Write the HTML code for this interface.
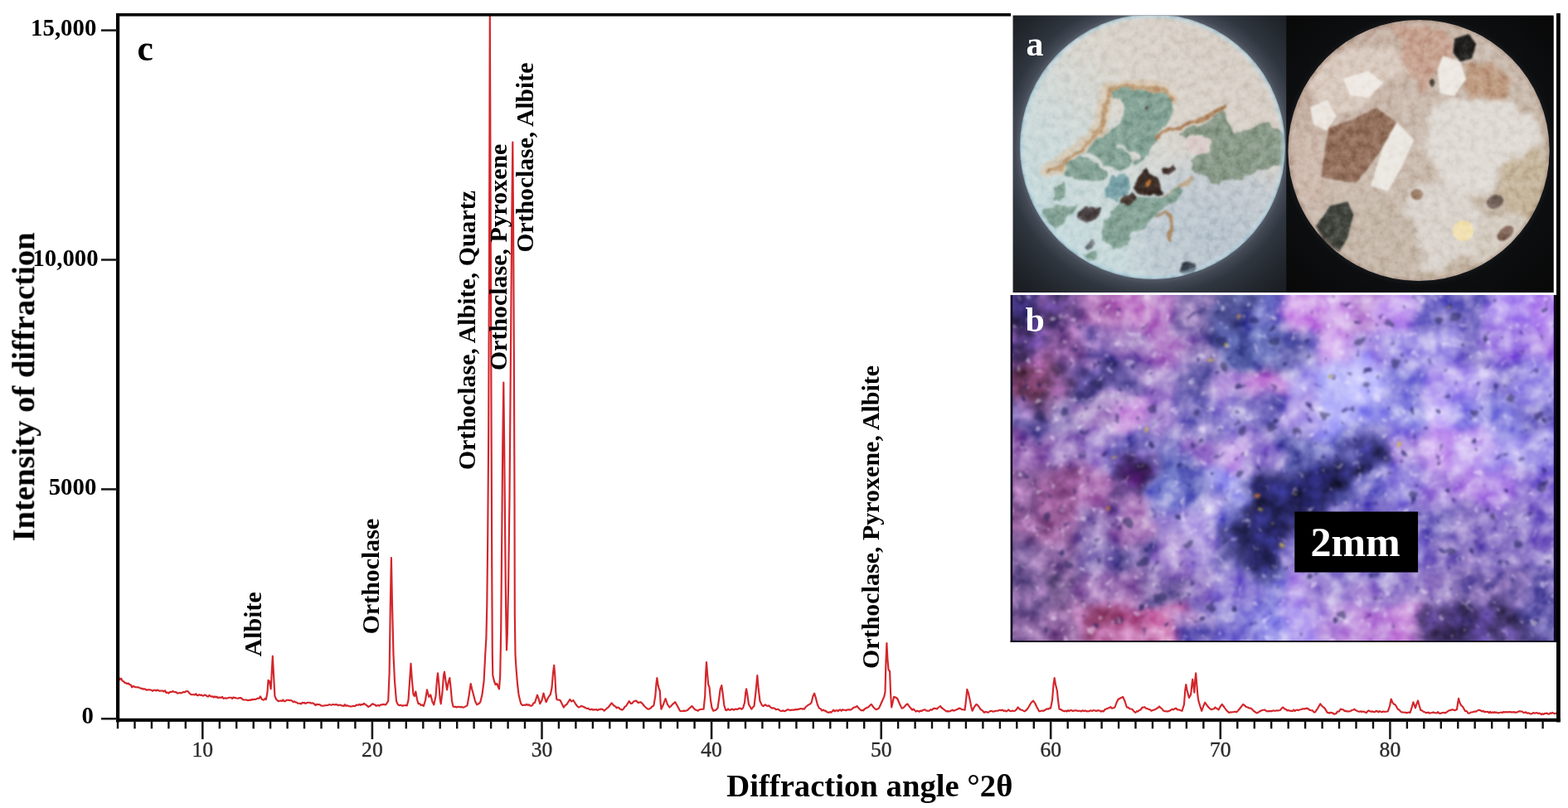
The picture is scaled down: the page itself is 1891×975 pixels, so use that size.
<!DOCTYPE html>
<html lang="en"><head><meta charset="utf-8"><title>XRD pattern with thin-section and hand-specimen photographs</title>
<style>
html,body{margin:0;padding:0;background:#fff;}
body{width:1891px;height:975px;overflow:hidden;}
svg{display:block;}
text{font-family:"Liberation Serif","DejaVu Serif",serif;}
.b{font-weight:bold;fill:#000;}
.tk{font-size:25.6px;fill:#2b2b2b;stroke:#2b2b2b;stroke-width:0.35px;text-anchor:middle;}
.yl{font-size:28.8px;font-weight:bold;fill:#000;text-anchor:end;}
.pk{font-size:29.9px;font-weight:bold;fill:#000;}
</style></head><body>
<svg width="1891" height="975" viewBox="0 0 1891 975">
<rect width="1891" height="975" fill="#fff"/>
<defs>
<clipPath id="ca"><rect x="1221.5" y="18.5" width="652.2" height="334.5"/></clipPath>
<clipPath id="caL"><rect x="1221.5" y="18.5" width="330.0" height="334.5"/></clipPath>
<clipPath id="cL"><circle cx="1390" cy="177" r="160"/></clipPath>
<clipPath id="cR"><circle cx="1711" cy="181.5" r="157.6"/></clipPath>
<radialGradient id="gL0" gradientUnits="userSpaceOnUse" cx="1390" cy="177" r="230">
<stop offset="0.695" stop-color="#555d69"/><stop offset="0.72" stop-color="#434a55"/><stop offset="0.78" stop-color="#30363f"/><stop offset="0.9" stop-color="#23282e"/><stop offset="1" stop-color="#1b1f24"/></radialGradient>
<linearGradient id="gL1" gradientUnits="userSpaceOnUse" x1="1260" y1="300" x2="1510" y2="50">
<stop offset="0" stop-color="#c3d9dc"/><stop offset="0.35" stop-color="#cfd9d8"/><stop offset="0.6" stop-color="#d9d4cc"/><stop offset="1" stop-color="#d6cdc4"/></linearGradient>
<radialGradient id="gL2" gradientUnits="userSpaceOnUse" cx="1470" cy="290" r="120">
<stop offset="0" stop-color="#b8c3cd" stop-opacity="1"/><stop offset="0.7" stop-color="#bcc7d0" stop-opacity="0.7"/><stop offset="1" stop-color="#c2ccd4" stop-opacity="0"/></radialGradient>
<radialGradient id="gLrim" gradientUnits="userSpaceOnUse" cx="1390" cy="177" r="160">
<stop offset="0.955" stop-color="#c4dce4" stop-opacity="0"/><stop offset="0.985" stop-color="#b4d2de" stop-opacity="0.6"/><stop offset="1" stop-color="#8aa8b8" stop-opacity="0.95"/></radialGradient>
<radialGradient id="gR0" gradientUnits="userSpaceOnUse" cx="1711" cy="181.5" r="230">
<stop offset="0.68" stop-color="#15181b"/><stop offset="0.71" stop-color="#0d0e10"/><stop offset="1" stop-color="#080808"/></radialGradient>
<linearGradient id="gR1" gradientUnits="userSpaceOnUse" x1="1580" y1="60" x2="1840" y2="300">
<stop offset="0" stop-color="#c3ad9f"/><stop offset="0.45" stop-color="#cbbcb0"/><stop offset="1" stop-color="#c4b6a4"/></linearGradient>
<radialGradient id="gRrim" gradientUnits="userSpaceOnUse" cx="1711" cy="181.5" r="157.6">
<stop offset="0.965" stop-color="#b89a88" stop-opacity="0"/><stop offset="1" stop-color="#9a8474" stop-opacity="0.55"/></radialGradient>
<filter id="fa" x="-5%" y="-5%" width="110%" height="110%" color-interpolation-filters="sRGB">
<feTurbulence type="fractalNoise" baseFrequency="0.07" numOctaves="2" seed="9" result="nd"/>
<feDisplacementMap in="SourceGraphic" in2="nd" scale="11" xChannelSelector="R" yChannelSelector="G" result="d"/>
<feGaussianBlur in="d" stdDeviation="1.1"/></filter>
<filter id="fp" x="-5%" y="-5%" width="110%" height="110%" color-interpolation-filters="sRGB"><feGaussianBlur stdDeviation="1.3"/></filter>
<filter id="fa3" x="-5%" y="-5%" width="110%" height="110%" color-interpolation-filters="sRGB">
<feTurbulence type="fractalNoise" baseFrequency="0.05" numOctaves="2" seed="19" result="nd"/>
<feDisplacementMap in="SourceGraphic" in2="nd" scale="22" xChannelSelector="R" yChannelSelector="G" result="d"/>
<feGaussianBlur in="d" stdDeviation="2.4"/></filter>
<filter id="fan" x="0" y="0" width="100%" height="100%" color-interpolation-filters="sRGB">
<feTurbulence type="fractalNoise" baseFrequency="0.11" numOctaves="3" seed="5" result="n"/>
<feColorMatrix in="n" type="matrix" values="0.56 0 0 0 0.22  0.56 0 0 0 0.22  0.56 0 0 0 0.22  0 0 0 0 1" result="g"/>
<feBlend in="g" in2="SourceGraphic" mode="soft-light" result="o"/>
<feComposite in="o" in2="SourceGraphic" operator="in"/>
</filter>
</defs>
<g clip-path="url(#ca)">
<rect x="1221.5" y="18.5" width="652.2" height="334.5" fill="#0b0c0d"/>
<rect x="1221.5" y="18.5" width="330.0" height="334.5" fill="url(#gL0)"/>
<rect x="1551.5" y="18.5" width="322.2" height="334.5" fill="url(#gR0)"/>
<g clip-path="url(#caL)"><g clip-path="url(#cL)"><g filter="url(#fan)">
<circle cx="1390" cy="177" r="162" fill="url(#gL1)"/>
<circle cx="1390" cy="177" r="162" fill="url(#gL2)"/>
<g filter="url(#fa)">
<g fill="none" stroke="#c9a57c" stroke-linecap="round" stroke-linejoin="round">
<polyline stroke-width="17" stroke="#d6c3aa" stroke-opacity="0.7" transform="translate(-3 -2)" points="1265.8,207.5 1278.7,203.2 1293.1,190.3 1307.5,178.8 1319,168.7 1329,158 1333,143.6 1334,126.2 1341.7,110.5 1362.6,105.2 1387,107 1406.3,110.5 1415,122"/>
<polyline stroke-width="5.5" stroke="#b99266" stroke-opacity="0.75" stroke-dasharray="7 3 4 2 9 4" transform="translate(-1.5 -1)" points="1265.8,207.5 1278.7,203.2 1293.1,190.3 1307.5,178.8 1319,168.7 1329,158 1333,143.6 1334,126.2 1341.7,110.5 1362.6,105.2 1387,107 1406.3,110.5 1415,122"/>
<polyline stroke-width="5" stroke="#a8794f" stroke-opacity="0.85" points="1385,182 1396,166 1408,157 1425,152 1446,145 1463,138 1476,129"/>
<polyline stroke-width="3.5" stroke="#a47a4c" stroke-opacity="0.8" points="1394,259.7 1408,256.2 1413.2,268.4 1411.5,287.6"/>
<polyline stroke-width="4" stroke="#b58d5e" stroke-opacity="0.7" points="1397,240 1420,228 1436,214"/>
</g>
<polygon points="1341.7,110.5 1362.6,107.0 1387.0,109.6 1404.5,112.2 1413.2,122.7 1415.0,134.9 1408.0,145.4 1401.0,155.8 1392.3,166.3 1383.6,178.5 1373.1,183.8 1366.1,176.8 1352.2,166.3 1348.7,152.4 1352.2,138.4 1355.6,129.7 1348.7,119.2 1341.7,117.5" fill="#85a396" />
<polygon points="1350.6,150.0 1390.0,150.0 1396.0,170.0 1386.0,186.0 1367.8,200.0 1350.6,204.6 1330.4,200.0 1311.8,183.0 1321.8,168.7 1336.2,158.7" fill="#85a396" />
<polygon points="1285.9,197.5 1307.5,188.8 1330.4,200.3 1336.2,209.0 1324.7,220.4 1307.5,217.6 1290.2,214.7 1283.0,209.0" fill="#85a396" />
<polygon points="1338.2,213.4 1355.6,208.2 1364.4,218.7 1359.1,232.6 1348.7,243.1 1334.7,237.9 1331.2,227.4" fill="#79a2a8" />
<polygon points="1427.2,157.6 1448.2,148.9 1463.9,141.9 1474.3,133.2 1481.3,150.6 1488.3,159.3 1502.3,157.6 1518.0,148.9 1530.2,148.9 1544.1,157.6 1552.0,175.0 1552.0,197.7 1526.7,204.7 1516.2,204.7 1502.3,213.4 1483.1,218.7 1462.1,222.2 1456.9,213.4 1448.2,211.7 1439.4,204.7 1435.9,194.2 1448.2,187.3 1462.1,182.0 1460.4,170.0 1448.2,162.8 1432.5,168.0 1422.0,161.0" fill="#8a9a89" />
<polygon points="1352.2,243.1 1369.6,237.9 1387.0,239.6 1404.5,236.1 1422.0,225.7 1427.2,232.6 1413.2,246.6 1397.5,254.0 1387.0,264.9 1376.6,275.4 1366.1,284.1 1359.1,296.3 1341.7,299.8 1331.2,291.1 1327.7,278.9 1334.7,264.9 1341.7,254.0" fill="#85a396" />
<polygon points="1271.9,225.7 1282.4,220.4 1285.8,232.6 1280.6,244.9 1270.1,241.4" fill="#85a396" />
<polygon points="1257.9,252.7 1282.4,247.0 1299.8,248.3 1296.3,257.0 1287.6,259.7 1282.4,270.1 1271.9,275.4 1261.4,268.4 1256.2,259.7" fill="#85a396" />
<polygon points="1305.0,306.8 1320.8,303.3 1324.2,313.8 1312.0,315.5" fill="#85a396" />
<polygon points="1310.3,296.3 1317.3,289.4 1320.8,294.6 1313.8,301.6" fill="#6d7478" />
<polyline fill="none" stroke="#d9dedb" stroke-width="3.2" stroke-opacity="0.85" stroke-linecap="round" points="1308,190 1322,196 1336,206 1346,210"/>
<polyline fill="none" stroke="#d9dedb" stroke-width="3" stroke-opacity="0.8" stroke-linecap="round" points="1346,176 1358,180 1364,196 1360,208"/>
<polygon points="1339.0,120.0 1349.0,118.0 1356.0,130.0 1353.0,142.0 1345.0,144.0 1340.0,134.0" fill="#dcd8d0" />
<polygon points="1432.0,166.0 1448.0,162.0 1461.0,170.0 1462.0,182.0 1448.0,187.0 1436.0,184.0 1430.0,175.0" fill="#dacdc9" />
<polygon points="1360.0,186.0 1372.0,184.0 1376.0,190.0 1366.0,194.0" fill="#d8d6d0" />
<polygon points="1381.8,203.0 1397.5,218.7 1401.0,232.6 1387.0,237.9 1373.1,236.1 1367.9,225.7 1373.1,213.4" fill="#3b2c26" />
<circle cx="1383.8" cy="220.6" r="4" fill="#b06a2c"/>
<polygon points="1404.5,203.0 1415.0,199.5 1419.4,206.5 1411.5,211.7 1404.5,210.0" fill="#4a3a36" />
<polygon points="1299.8,256.2 1312.0,250.1 1327.7,252.7 1324.2,261.4 1312.0,266.7 1301.6,265.8" fill="#4d4546" />
<polygon points="1355.0,236.0 1366.0,232.0 1370.0,240.0 1360.0,246.0 1352.0,243.0" fill="#4a3a34" />
<circle cx="1433.3" cy="323.6" r="8.8" fill="#3b4350"/>
<circle cx="1381" cy="131" r="2" fill="#5a4a3a"/>
</g>
<circle cx="1390" cy="177" r="160" fill="url(#gLrim)"/>
</g></g></g>
<g clip-path="url(#cR)"><g filter="url(#fan)">
<circle cx="1711" cy="181.5" r="159" fill="url(#gR1)"/>
<g filter="url(#fa3)">
<polygon points="1726.2,130.0 1789.0,112.6 1830.8,130.0 1858.7,154.4 1851.7,182.3 1816.9,196.3 1802.9,231.1 1768.0,238.1 1740.2,217.2 1719.3,182.3" fill="#dfdad4" />
<polygon points="1700.0,225.0 1740.2,217.2 1768.0,238.1 1790.0,262.0 1770.0,300.0 1735.0,330.0 1700.0,320.0 1690.0,270.0" fill="#d9d3cc" />
<polygon points="1585.0,75.0 1640.0,55.0 1690.0,60.0 1695.0,85.0 1660.0,105.0 1640.0,130.0 1610.0,140.0 1590.0,125.0 1575.0,100.0" fill="#d9cabf" />
<polygon points="1680.0,30.0 1745.0,32.0 1752.0,60.0 1735.0,95.0 1712.0,110.0 1695.0,85.0" fill="#c7a391" />
<polygon points="1768.0,77.7 1796.0,70.8 1822.0,98.7 1810.0,122.0 1789.0,119.6 1768.0,116.1" fill="#bd9a80" />
<polygon points="1560.0,170.0 1592.0,160.0 1600.0,200.0 1590.0,240.0 1570.0,250.0 1556.0,220.0" fill="#cdb9ad" />
<polygon points="1600.0,240.0 1660.0,232.0 1700.0,260.0 1720.0,310.0 1700.0,345.0 1640.0,345.0 1600.0,310.0" fill="#c6b8aa" />
<polygon points="1816.9,196.3 1851.7,178.8 1869.0,196.3 1869.0,238.1 1844.8,266.0 1823.8,259.0 1810.0,231.1" fill="#c5b59c" />
<polygon points="1790.0,262.0 1823.8,259.0 1844.8,266.0 1830.0,300.0 1790.0,330.0 1770.0,300.0" fill="#d4cbc0" />
</g><g filter="url(#fp)">
<polygon points="1602.5,154.4 1632.1,144.0 1660.0,130.0 1684.4,147.5 1667.0,178.8 1649.6,203.2 1635.6,220.6 1611.2,217.2 1593.8,213.7 1597.3,182.3" fill="#93705c" />
<polygon points="1684.4,147.5 1705.3,168.4 1691.4,199.7 1674.0,231.1 1653.0,224.1 1667.0,178.8" fill="#ebe7e1" />
<polygon points="1740.2,67.3 1761.1,74.3 1768.0,95.2 1754.1,116.1 1736.7,112.6 1733.2,84.7" fill="#ede8e2" />
<polygon points="1580.0,130.0 1600.0,120.0 1612.0,140.0 1600.0,158.0 1584.0,150.0" fill="#ece6e0" />
<polygon points="1620.0,95.0 1650.0,85.0 1668.0,100.0 1650.0,118.0 1628.0,115.0" fill="#efe9e4" />
<polygon points="1754.1,46.4 1771.6,41.1 1780.3,53.3 1775.0,70.8 1761.1,74.3 1752.4,63.8" fill="#1f1e1c" />
<polygon points="1604.3,248.5 1625.2,243.3 1632.1,259.0 1625.2,286.9 1614.7,304.3 1597.3,293.9 1586.8,272.9" fill="#40443d" />
<circle cx="1764.6" cy="278.4" r="12.5" fill="#f1e1b2"/>
<ellipse cx="1803" cy="243.5" rx="10.5" ry="8" transform="rotate(-25 1803 243.5)" fill="#6f5f56"/>
<ellipse cx="1815.5" cy="281.5" rx="11.5" ry="7" transform="rotate(-40 1815.5 281.5)" fill="#85695c"/>
<ellipse cx="1708.8" cy="234.6" rx="7.5" ry="6.5" fill="#9a7c66"/>
<ellipse cx="1727" cy="100" rx="3" ry="5" fill="#4a4036"/>
</g>
<circle cx="1711" cy="181.5" r="157.6" fill="url(#gRrim)"/>
</g></g>
</g>
<text x="1237.5" y="66.5" font-size="42px" font-weight="bold" fill="#fff">a</text>
<defs>
<clipPath id="cb"><rect x="1219.0" y="356.0" width="658.0" height="418.6"/></clipPath>
<filter id="fb" x="-10%" y="-10%" width="120%" height="120%" color-interpolation-filters="sRGB">
<feGaussianBlur in="SourceGraphic" stdDeviation="7" result="b0"/>
<feTurbulence type="fractalNoise" baseFrequency="0.022" numOctaves="2" seed="3" result="nd"/>
<feDisplacementMap in="b0" in2="nd" scale="46" xChannelSelector="R" yChannelSelector="G" result="b1"/>
<feColorMatrix in="b1" type="matrix" values="1.12 0 0 0 -0.035  0 1.19 0 0 -0.05  0 0 1.1 0 -0.025  0 0 0 0 1" result="b"/>
<feTurbulence type="fractalNoise" baseFrequency="0.045" numOctaves="3" seed="11" result="n1"/>
<feColorMatrix in="n1" type="matrix" values="0.75 0 0 0 0.115  0.75 0 0 0 0.115  0.75 0 0 0 0.115  0 0 0 0 1" result="g1"/>
<feBlend in="g1" in2="b" mode="overlay" result="o1"/>
<feTurbulence type="fractalNoise" baseFrequency="0.07" numOctaves="2" seed="4" result="n2"/>
<feColorMatrix in="n2" type="matrix" values="0 0 0 0 0.13  0 0 0 0 0.12  0 0 0 0 0.38  -6.5 0 0 0 2.05" result="s2"/>
<feComponentTransfer in="s2" result="s2a"><feFuncA type="linear" slope="0.7"/></feComponentTransfer>
<feComposite in="s2a" in2="o1" operator="over" result="o2"/>
<feTurbulence type="fractalNoise" baseFrequency="0.09" numOctaves="2" seed="23" result="n3"/>
<feColorMatrix in="n3" type="matrix" values="0 0 0 0 0.96  0 0 0 0 0.92  0 0 0 0 1  0 6 0 0 -3.95" result="s3"/>
<feComponentTransfer in="s3" result="s3a"><feFuncA type="linear" slope="0.5"/></feComponentTransfer>
<feComposite in="s3a" in2="o2" operator="over" result="o3"/>
<feGaussianBlur in="o3" stdDeviation="1.1"/>
</filter>
<filter id="fs" x="-5%" y="-5%" width="110%" height="110%" color-interpolation-filters="sRGB">
<feTurbulence type="fractalNoise" baseFrequency="0.09" numOctaves="2" seed="8" result="nd"/>
<feDisplacementMap in="SourceGraphic" in2="nd" scale="9" xChannelSelector="R" yChannelSelector="G" result="d"/>
<feGaussianBlur in="d" stdDeviation="1.7"/></filter>
</defs>
<g clip-path="url(#cb)">
<rect x="1219.0" y="356.0" width="658.0" height="418.6" fill="#8f78c0"/>
<g filter="url(#fb)">
<rect x="1177.9" y="314.1" width="41.7" height="42.5" fill="#4a3c80"/>
<rect x="1219.0" y="314.1" width="41.7" height="42.5" fill="#4a3c80"/>
<rect x="1260.1" y="314.1" width="41.7" height="42.5" fill="#7a5494"/>
<rect x="1301.2" y="314.1" width="41.7" height="42.5" fill="#a066a8"/>
<rect x="1342.4" y="314.1" width="41.7" height="42.5" fill="#b87cc0"/>
<rect x="1383.5" y="314.1" width="41.7" height="42.5" fill="#af7abe"/>
<rect x="1424.6" y="314.1" width="41.7" height="42.5" fill="#816aa7"/>
<rect x="1465.8" y="314.1" width="41.7" height="42.5" fill="#5a5a98"/>
<rect x="1506.9" y="314.1" width="41.7" height="42.5" fill="#6a68b8"/>
<rect x="1548.0" y="314.1" width="41.7" height="42.5" fill="#c088d8"/>
<rect x="1589.1" y="314.1" width="41.7" height="42.5" fill="#c090d8"/>
<rect x="1630.2" y="314.1" width="41.7" height="42.5" fill="#b080c8"/>
<rect x="1671.4" y="314.1" width="41.7" height="42.5" fill="#b890e0"/>
<rect x="1712.5" y="314.1" width="41.7" height="42.5" fill="#7c70c0"/>
<rect x="1753.6" y="314.1" width="41.7" height="42.5" fill="#7468b8"/>
<rect x="1794.8" y="314.1" width="41.7" height="42.5" fill="#a888e0"/>
<rect x="1835.9" y="314.1" width="41.7" height="42.5" fill="#b088e0"/>
<rect x="1877.0" y="314.1" width="41.7" height="42.5" fill="#b088e0"/>
<rect x="1177.9" y="356.0" width="41.7" height="42.5" fill="#4a3c80"/>
<rect x="1219.0" y="356.0" width="41.7" height="42.5" fill="#4a3c80"/>
<rect x="1260.1" y="356.0" width="41.7" height="42.5" fill="#7a5494"/>
<rect x="1301.2" y="356.0" width="41.7" height="42.5" fill="#a066a8"/>
<rect x="1342.4" y="356.0" width="41.7" height="42.5" fill="#b87cc0"/>
<rect x="1383.5" y="356.0" width="41.7" height="42.5" fill="#af7abe"/>
<rect x="1424.6" y="356.0" width="41.7" height="42.5" fill="#816aa7"/>
<rect x="1465.8" y="356.0" width="41.7" height="42.5" fill="#5a5a98"/>
<rect x="1506.9" y="356.0" width="41.7" height="42.5" fill="#6a68b8"/>
<rect x="1548.0" y="356.0" width="41.7" height="42.5" fill="#c088d8"/>
<rect x="1589.1" y="356.0" width="41.7" height="42.5" fill="#c090d8"/>
<rect x="1630.2" y="356.0" width="41.7" height="42.5" fill="#b080c8"/>
<rect x="1671.4" y="356.0" width="41.7" height="42.5" fill="#b890e0"/>
<rect x="1712.5" y="356.0" width="41.7" height="42.5" fill="#7c70c0"/>
<rect x="1753.6" y="356.0" width="41.7" height="42.5" fill="#7468b8"/>
<rect x="1794.8" y="356.0" width="41.7" height="42.5" fill="#a888e0"/>
<rect x="1835.9" y="356.0" width="41.7" height="42.5" fill="#b088e0"/>
<rect x="1877.0" y="356.0" width="41.7" height="42.5" fill="#b088e0"/>
<rect x="1177.9" y="397.9" width="41.7" height="42.5" fill="#8858a0"/>
<rect x="1219.0" y="397.9" width="41.7" height="42.5" fill="#8858a0"/>
<rect x="1260.1" y="397.9" width="41.7" height="42.5" fill="#8a5c9c"/>
<rect x="1301.2" y="397.9" width="41.7" height="42.5" fill="#7a60a8"/>
<rect x="1342.4" y="397.9" width="41.7" height="42.5" fill="#9a78b8"/>
<rect x="1383.5" y="397.9" width="41.7" height="42.5" fill="#ab7abe"/>
<rect x="1424.6" y="397.9" width="41.7" height="42.5" fill="#8972af"/>
<rect x="1465.8" y="397.9" width="41.7" height="42.5" fill="#5f68b0"/>
<rect x="1506.9" y="397.9" width="41.7" height="42.5" fill="#7c80cc"/>
<rect x="1548.0" y="397.9" width="41.7" height="42.5" fill="#8078c0"/>
<rect x="1589.1" y="397.9" width="41.7" height="42.5" fill="#c8a0e0"/>
<rect x="1630.2" y="397.9" width="41.7" height="42.5" fill="#a890d8"/>
<rect x="1671.4" y="397.9" width="41.7" height="42.5" fill="#9c8cd8"/>
<rect x="1712.5" y="397.9" width="41.7" height="42.5" fill="#9888d8"/>
<rect x="1753.6" y="397.9" width="41.7" height="42.5" fill="#8070c0"/>
<rect x="1794.8" y="397.9" width="41.7" height="42.5" fill="#a080d8"/>
<rect x="1835.9" y="397.9" width="41.7" height="42.5" fill="#a880d8"/>
<rect x="1877.0" y="397.9" width="41.7" height="42.5" fill="#a880d8"/>
<rect x="1177.9" y="439.7" width="41.7" height="42.5" fill="#7a4878"/>
<rect x="1219.0" y="439.7" width="41.7" height="42.5" fill="#7a4878"/>
<rect x="1260.1" y="439.7" width="41.7" height="42.5" fill="#705088"/>
<rect x="1301.2" y="439.7" width="41.7" height="42.5" fill="#54488c"/>
<rect x="1342.4" y="439.7" width="41.7" height="42.5" fill="#6a5aa0"/>
<rect x="1383.5" y="439.7" width="41.7" height="42.5" fill="#987abe"/>
<rect x="1424.6" y="439.7" width="41.7" height="42.5" fill="#6e63a7"/>
<rect x="1465.8" y="439.7" width="41.7" height="42.5" fill="#b090d0"/>
<rect x="1506.9" y="439.7" width="41.7" height="42.5" fill="#c088d0"/>
<rect x="1548.0" y="439.7" width="41.7" height="42.5" fill="#a898e0"/>
<rect x="1589.1" y="439.7" width="41.7" height="42.5" fill="#b0a8e8"/>
<rect x="1630.2" y="439.7" width="41.7" height="42.5" fill="#b4aaee"/>
<rect x="1671.4" y="439.7" width="41.7" height="42.5" fill="#8880d0"/>
<rect x="1712.5" y="439.7" width="41.7" height="42.5" fill="#b098e0"/>
<rect x="1753.6" y="439.7" width="41.7" height="42.5" fill="#a890e0"/>
<rect x="1794.8" y="439.7" width="41.7" height="42.5" fill="#8474c8"/>
<rect x="1835.9" y="439.7" width="41.7" height="42.5" fill="#9888d8"/>
<rect x="1877.0" y="439.7" width="41.7" height="42.5" fill="#9888d8"/>
<rect x="1177.9" y="481.6" width="41.7" height="42.5" fill="#6c5ca0"/>
<rect x="1219.0" y="481.6" width="41.7" height="42.5" fill="#6c5ca0"/>
<rect x="1260.1" y="481.6" width="41.7" height="42.5" fill="#8874b0"/>
<rect x="1301.2" y="481.6" width="41.7" height="42.5" fill="#a888c0"/>
<rect x="1342.4" y="481.6" width="41.7" height="42.5" fill="#c494d4"/>
<rect x="1383.5" y="481.6" width="41.7" height="42.5" fill="#a081c6"/>
<rect x="1424.6" y="481.6" width="41.7" height="42.5" fill="#766ab6"/>
<rect x="1465.8" y="481.6" width="41.7" height="42.5" fill="#9080c8"/>
<rect x="1506.9" y="481.6" width="41.7" height="42.5" fill="#6a60b0"/>
<rect x="1548.0" y="481.6" width="41.7" height="42.5" fill="#a890d8"/>
<rect x="1589.1" y="481.6" width="41.7" height="42.5" fill="#a8a0e8"/>
<rect x="1630.2" y="481.6" width="41.7" height="42.5" fill="#9890e0"/>
<rect x="1671.4" y="481.6" width="41.7" height="42.5" fill="#9088d8"/>
<rect x="1712.5" y="481.6" width="41.7" height="42.5" fill="#b8a0e8"/>
<rect x="1753.6" y="481.6" width="41.7" height="42.5" fill="#8c80d8"/>
<rect x="1794.8" y="481.6" width="41.7" height="42.5" fill="#8c84d4"/>
<rect x="1835.9" y="481.6" width="41.7" height="42.5" fill="#7c70c0"/>
<rect x="1877.0" y="481.6" width="41.7" height="42.5" fill="#7c70c0"/>
<rect x="1177.9" y="523.4" width="41.7" height="42.5" fill="#9468ac"/>
<rect x="1219.0" y="523.4" width="41.7" height="42.5" fill="#9468ac"/>
<rect x="1260.1" y="523.4" width="41.7" height="42.5" fill="#9070b4"/>
<rect x="1301.2" y="523.4" width="41.7" height="42.5" fill="#9c80c4"/>
<rect x="1342.4" y="523.4" width="41.7" height="42.5" fill="#6c60b0"/>
<rect x="1383.5" y="523.4" width="41.7" height="42.5" fill="#726ab6"/>
<rect x="1424.6" y="523.4" width="41.7" height="42.5" fill="#a081c6"/>
<rect x="1465.8" y="523.4" width="41.7" height="42.5" fill="#b890d8"/>
<rect x="1506.9" y="523.4" width="41.7" height="42.5" fill="#9880c8"/>
<rect x="1548.0" y="523.4" width="41.7" height="42.5" fill="#6060a8"/>
<rect x="1589.1" y="523.4" width="41.7" height="42.5" fill="#7470c0"/>
<rect x="1630.2" y="523.4" width="41.7" height="42.5" fill="#6c64b4"/>
<rect x="1671.4" y="523.4" width="41.7" height="42.5" fill="#a080d0"/>
<rect x="1712.5" y="523.4" width="41.7" height="42.5" fill="#c098e0"/>
<rect x="1753.6" y="523.4" width="41.7" height="42.5" fill="#b898e0"/>
<rect x="1794.8" y="523.4" width="41.7" height="42.5" fill="#a898e0"/>
<rect x="1835.9" y="523.4" width="41.7" height="42.5" fill="#9888d8"/>
<rect x="1877.0" y="523.4" width="41.7" height="42.5" fill="#9888d8"/>
<rect x="1177.9" y="565.3" width="41.7" height="42.5" fill="#865c94"/>
<rect x="1219.0" y="565.3" width="41.7" height="42.5" fill="#865c94"/>
<rect x="1260.1" y="565.3" width="41.7" height="42.5" fill="#8d548d"/>
<rect x="1301.2" y="565.3" width="41.7" height="42.5" fill="#a26aa9"/>
<rect x="1342.4" y="565.3" width="41.7" height="42.5" fill="#6a4d8d"/>
<rect x="1383.5" y="565.3" width="41.7" height="42.5" fill="#7a7ac6"/>
<rect x="1424.6" y="565.3" width="41.7" height="42.5" fill="#8981c6"/>
<rect x="1465.8" y="565.3" width="41.7" height="42.5" fill="#9890e0"/>
<rect x="1506.9" y="565.3" width="41.7" height="42.5" fill="#505098"/>
<rect x="1548.0" y="565.3" width="41.7" height="42.5" fill="#404088"/>
<rect x="1589.1" y="565.3" width="41.7" height="42.5" fill="#484890"/>
<rect x="1630.2" y="565.3" width="41.7" height="42.5" fill="#7870c0"/>
<rect x="1671.4" y="565.3" width="41.7" height="42.5" fill="#9080d0"/>
<rect x="1712.5" y="565.3" width="41.7" height="42.5" fill="#a080d0"/>
<rect x="1753.6" y="565.3" width="41.7" height="42.5" fill="#b088d8"/>
<rect x="1794.8" y="565.3" width="41.7" height="42.5" fill="#a880d8"/>
<rect x="1835.9" y="565.3" width="41.7" height="42.5" fill="#8870c8"/>
<rect x="1877.0" y="565.3" width="41.7" height="42.5" fill="#8870c8"/>
<rect x="1177.9" y="607.2" width="41.7" height="42.5" fill="#8d5c94"/>
<rect x="1219.0" y="607.2" width="41.7" height="42.5" fill="#8d5c94"/>
<rect x="1260.1" y="607.2" width="41.7" height="42.5" fill="#945c94"/>
<rect x="1301.2" y="607.2" width="41.7" height="42.5" fill="#866aa9"/>
<rect x="1342.4" y="607.2" width="41.7" height="42.5" fill="#a271b0"/>
<rect x="1383.5" y="607.2" width="41.7" height="42.5" fill="#9881c6"/>
<rect x="1424.6" y="607.2" width="41.7" height="42.5" fill="#a790d5"/>
<rect x="1465.8" y="607.2" width="41.7" height="42.5" fill="#7c78c8"/>
<rect x="1506.9" y="607.2" width="41.7" height="42.5" fill="#505090"/>
<rect x="1548.0" y="607.2" width="41.7" height="42.5" fill="#6a60b0"/>
<rect x="1589.1" y="607.2" width="41.7" height="42.5" fill="#6a60b0"/>
<rect x="1630.2" y="607.2" width="41.7" height="42.5" fill="#8070c0"/>
<rect x="1671.4" y="607.2" width="41.7" height="42.5" fill="#8878c8"/>
<rect x="1712.5" y="607.2" width="41.7" height="42.5" fill="#7e70ba"/>
<rect x="1753.6" y="607.2" width="41.7" height="42.5" fill="#8670ba"/>
<rect x="1794.8" y="607.2" width="41.7" height="42.5" fill="#8d77c1"/>
<rect x="1835.9" y="607.2" width="41.7" height="42.5" fill="#8670c1"/>
<rect x="1877.0" y="607.2" width="41.7" height="42.5" fill="#8670c1"/>
<rect x="1177.9" y="649.0" width="41.7" height="42.5" fill="#7f639b"/>
<rect x="1219.0" y="649.0" width="41.7" height="42.5" fill="#7f639b"/>
<rect x="1260.1" y="649.0" width="41.7" height="42.5" fill="#86639b"/>
<rect x="1301.2" y="649.0" width="41.7" height="42.5" fill="#8671b0"/>
<rect x="1342.4" y="649.0" width="41.7" height="42.5" fill="#6d5c9b"/>
<rect x="1383.5" y="649.0" width="41.7" height="42.5" fill="#a081c6"/>
<rect x="1424.6" y="649.0" width="41.7" height="42.5" fill="#a089cd"/>
<rect x="1465.8" y="649.0" width="41.7" height="42.5" fill="#7068b0"/>
<rect x="1506.9" y="649.0" width="41.7" height="42.5" fill="#5858a0"/>
<rect x="1548.0" y="649.0" width="41.7" height="42.5" fill="#8070c0"/>
<rect x="1589.1" y="649.0" width="41.7" height="42.5" fill="#8070c0"/>
<rect x="1630.2" y="649.0" width="41.7" height="42.5" fill="#8070c0"/>
<rect x="1671.4" y="649.0" width="41.7" height="42.5" fill="#8878c8"/>
<rect x="1712.5" y="649.0" width="41.7" height="42.5" fill="#8670ba"/>
<rect x="1753.6" y="649.0" width="41.7" height="42.5" fill="#7e68b3"/>
<rect x="1794.8" y="649.0" width="41.7" height="42.5" fill="#8670ba"/>
<rect x="1835.9" y="649.0" width="41.7" height="42.5" fill="#8d77c1"/>
<rect x="1877.0" y="649.0" width="41.7" height="42.5" fill="#8d77c1"/>
<rect x="1177.9" y="690.9" width="41.7" height="42.5" fill="#795c94"/>
<rect x="1219.0" y="690.9" width="41.7" height="42.5" fill="#795c94"/>
<rect x="1260.1" y="690.9" width="41.7" height="42.5" fill="#785c8d"/>
<rect x="1301.2" y="690.9" width="41.7" height="42.5" fill="#946aa9"/>
<rect x="1342.4" y="690.9" width="41.7" height="42.5" fill="#946aa9"/>
<rect x="1383.5" y="690.9" width="41.7" height="42.5" fill="#7a65a0"/>
<rect x="1424.6" y="690.9" width="41.7" height="42.5" fill="#947abe"/>
<rect x="1465.8" y="690.9" width="41.7" height="42.5" fill="#8c78c8"/>
<rect x="1506.9" y="690.9" width="41.7" height="42.5" fill="#8880d0"/>
<rect x="1548.0" y="690.9" width="41.7" height="42.5" fill="#a888d8"/>
<rect x="1589.1" y="690.9" width="41.7" height="42.5" fill="#9880c8"/>
<rect x="1630.2" y="690.9" width="41.7" height="42.5" fill="#a080c8"/>
<rect x="1671.4" y="690.9" width="41.7" height="42.5" fill="#9078c0"/>
<rect x="1712.5" y="690.9" width="41.7" height="42.5" fill="#9177ba"/>
<rect x="1753.6" y="690.9" width="41.7" height="42.5" fill="#7e68ab"/>
<rect x="1794.8" y="690.9" width="41.7" height="42.5" fill="#7761a4"/>
<rect x="1835.9" y="690.9" width="41.7" height="42.5" fill="#7061ab"/>
<rect x="1877.0" y="690.9" width="41.7" height="42.5" fill="#7061ab"/>
<rect x="1177.9" y="732.7" width="41.7" height="42.5" fill="#86639b"/>
<rect x="1219.0" y="732.7" width="41.7" height="42.5" fill="#86639b"/>
<rect x="1260.1" y="732.7" width="41.7" height="42.5" fill="#8d639b"/>
<rect x="1301.2" y="732.7" width="41.7" height="42.5" fill="#945486"/>
<rect x="1342.4" y="732.7" width="41.7" height="42.5" fill="#a9639b"/>
<rect x="1383.5" y="732.7" width="41.7" height="42.5" fill="#be72af"/>
<rect x="1424.6" y="732.7" width="41.7" height="42.5" fill="#7a6ab6"/>
<rect x="1465.8" y="732.7" width="41.7" height="42.5" fill="#8478c8"/>
<rect x="1506.9" y="732.7" width="41.7" height="42.5" fill="#8880d8"/>
<rect x="1548.0" y="732.7" width="41.7" height="42.5" fill="#a890e0"/>
<rect x="1589.1" y="732.7" width="41.7" height="42.5" fill="#b088d0"/>
<rect x="1630.2" y="732.7" width="41.7" height="42.5" fill="#b888d0"/>
<rect x="1671.4" y="732.7" width="41.7" height="42.5" fill="#c088d0"/>
<rect x="1712.5" y="732.7" width="41.7" height="42.5" fill="#6a5090"/>
<rect x="1753.6" y="732.7" width="41.7" height="42.5" fill="#5a4888"/>
<rect x="1794.8" y="732.7" width="41.7" height="42.5" fill="#6a5898"/>
<rect x="1835.9" y="732.7" width="41.7" height="42.5" fill="#6a60a8"/>
<rect x="1877.0" y="732.7" width="41.7" height="42.5" fill="#6a60a8"/>
<rect x="1177.9" y="774.6" width="41.7" height="42.5" fill="#86639b"/>
<rect x="1219.0" y="774.6" width="41.7" height="42.5" fill="#86639b"/>
<rect x="1260.1" y="774.6" width="41.7" height="42.5" fill="#8d639b"/>
<rect x="1301.2" y="774.6" width="41.7" height="42.5" fill="#945486"/>
<rect x="1342.4" y="774.6" width="41.7" height="42.5" fill="#a9639b"/>
<rect x="1383.5" y="774.6" width="41.7" height="42.5" fill="#be72af"/>
<rect x="1424.6" y="774.6" width="41.7" height="42.5" fill="#7a6ab6"/>
<rect x="1465.8" y="774.6" width="41.7" height="42.5" fill="#8478c8"/>
<rect x="1506.9" y="774.6" width="41.7" height="42.5" fill="#8880d8"/>
<rect x="1548.0" y="774.6" width="41.7" height="42.5" fill="#a890e0"/>
<rect x="1589.1" y="774.6" width="41.7" height="42.5" fill="#b088d0"/>
<rect x="1630.2" y="774.6" width="41.7" height="42.5" fill="#b888d0"/>
<rect x="1671.4" y="774.6" width="41.7" height="42.5" fill="#c088d0"/>
<rect x="1712.5" y="774.6" width="41.7" height="42.5" fill="#6a5090"/>
<rect x="1753.6" y="774.6" width="41.7" height="42.5" fill="#5a4888"/>
<rect x="1794.8" y="774.6" width="41.7" height="42.5" fill="#6a5898"/>
<rect x="1835.9" y="774.6" width="41.7" height="42.5" fill="#6a60a8"/>
<rect x="1877.0" y="774.6" width="41.7" height="42.5" fill="#6a60a8"/>
<polygon points="1502.7,579.5 1528.5,566.6 1562.8,570.9 1597.2,562.3 1623.0,545.1 1653.1,536.5 1674.6,545.1 1666.0,562.3 1631.6,570.9 1605.8,588.1 1588.6,613.9 1567.1,631.1 1558.5,656.9 1537.0,682.6 1511.3,686.9 1485.5,674.0 1472.6,652.6 1489.8,631.1 1502.7,609.6" fill="#26265e" fill-opacity="0.8"/>
<polygon points="1713.3,742.8 1756.2,721.3 1812.1,725.6 1842.2,742.8 1863.7,775.0 1704.7,775.0" fill="#33285a" fill-opacity="0.45"/>
<polygon points="1451.1,381.8 1494.1,373.2 1519.9,399.0 1562.8,394.7 1571.4,424.8 1545.6,454.9 1494.1,446.3 1459.7,420.5" fill="#33366f" fill-opacity="0.3"/>
<polygon points="1219.0,356.0 1283.5,356.0 1270.6,403.3 1219.0,442.0" fill="#30285c" fill-opacity="0.6"/>
<polygon points="1356.5,549.4 1386.6,545.1 1399.5,566.6 1390.9,588.1 1365.1,590.2 1352.2,570.9" fill="#3a174c" fill-opacity="0.9"/>
<polygon points="1403.8,545.1 1442.5,553.7 1459.7,579.5 1442.5,596.7 1412.4,588.1 1399.5,566.6" fill="#5a62b0" fill-opacity="0.6"/>
<polygon points="1219.0,433.4 1257.7,420.5 1287.8,454.9 1270.6,497.8 1231.9,497.8 1219.0,476.3" fill="#8a3a48" fill-opacity="0.22"/>
<polygon points="1296.4,742.8 1360.8,725.6 1442.5,742.8 1425.3,775.0 1305.0,775.0" fill="#c8608c" fill-opacity="0.22"/>
</g>
<g filter="url(#fs)">
<ellipse cx="1640.2" cy="411.9" rx="7.0" ry="4.3" transform="rotate(-26 1640.2 411.9)" fill="#24245a" fill-opacity="0.55"/>
<ellipse cx="1683.2" cy="437.7" rx="6.4" ry="4.3" transform="rotate(-37 1683.2 437.7)" fill="#24245a" fill-opacity="0.55"/>
<ellipse cx="1498.4" cy="519.3" rx="5.9" ry="4.8" transform="rotate(-5 1498.4 519.3)" fill="#24245a" fill-opacity="0.55"/>
<ellipse cx="1532.7" cy="515.0" rx="6.4" ry="5.4" transform="rotate(-9 1532.7 515.0)" fill="#24245a" fill-opacity="0.55"/>
<ellipse cx="1562.8" cy="519.3" rx="5.4" ry="4.3" transform="rotate(-12 1562.8 519.3)" fill="#24245a" fill-opacity="0.55"/>
<ellipse cx="1390.9" cy="493.5" rx="5.4" ry="4.3" transform="rotate(-23 1390.9 493.5)" fill="#24245a" fill-opacity="0.55"/>
<ellipse cx="1442.5" cy="497.8" rx="5.4" ry="4.8" transform="rotate(-27 1442.5 497.8)" fill="#24245a" fill-opacity="0.55"/>
<ellipse cx="1322.2" cy="463.4" rx="7.0" ry="4.8" transform="rotate(29 1322.2 463.4)" fill="#24245a" fill-opacity="0.55"/>
<ellipse cx="1378.0" cy="678.3" rx="8.1" ry="5.4" transform="rotate(-29 1378.0 678.3)" fill="#24245a" fill-opacity="0.55"/>
<ellipse cx="1399.5" cy="721.3" rx="6.4" ry="7.5" transform="rotate(35 1399.5 721.3)" fill="#24245a" fill-opacity="0.55"/>
<ellipse cx="1360.8" cy="631.1" rx="6.4" ry="4.8" transform="rotate(14 1360.8 631.1)" fill="#24245a" fill-opacity="0.55"/>
<ellipse cx="1756.2" cy="381.8" rx="6.4" ry="4.8" transform="rotate(-36 1756.2 381.8)" fill="#24245a" fill-opacity="0.55"/>
<ellipse cx="1734.8" cy="386.1" rx="5.4" ry="4.3" transform="rotate(-37 1734.8 386.1)" fill="#24245a" fill-opacity="0.55"/>
<ellipse cx="1820.7" cy="480.6" rx="5.9" ry="4.8" transform="rotate(-29 1820.7 480.6)" fill="#24245a" fill-opacity="0.55"/>
<ellipse cx="1777.7" cy="497.8" rx="5.4" ry="4.3" transform="rotate(-13 1777.7 497.8)" fill="#24245a" fill-opacity="0.55"/>
<ellipse cx="1855.1" cy="502.1" rx="4.8" ry="4.3" transform="rotate(-11 1855.1 502.1)" fill="#24245a" fill-opacity="0.55"/>
<ellipse cx="1859.4" cy="588.1" rx="5.4" ry="6.4" transform="rotate(24 1859.4 588.1)" fill="#24245a" fill-opacity="0.55"/>
<ellipse cx="1537.0" cy="411.9" rx="6.4" ry="5.4" transform="rotate(37 1537.0 411.9)" fill="#24245a" fill-opacity="0.55"/>
<ellipse cx="1472.6" cy="411.9" rx="5.9" ry="6.4" transform="rotate(-37 1472.6 411.9)" fill="#24245a" fill-opacity="0.55"/>
<ellipse cx="1476.9" cy="442.0" rx="5.4" ry="4.8" transform="rotate(31 1476.9 442.0)" fill="#24245a" fill-opacity="0.55"/>
<ellipse cx="1511.3" cy="386.1" rx="5.9" ry="4.3" transform="rotate(-15 1511.3 386.1)" fill="#24245a" fill-opacity="0.55"/>
<ellipse cx="1674.6" cy="390.4" rx="5.4" ry="4.3" transform="rotate(29 1674.6 390.4)" fill="#24245a" fill-opacity="0.55"/>
<ellipse cx="1618.7" cy="742.8" rx="5.9" ry="4.8" transform="rotate(13 1618.7 742.8)" fill="#24245a" fill-opacity="0.55"/>
<ellipse cx="1751.9" cy="665.5" rx="4.8" ry="4.3" transform="rotate(-12 1751.9 665.5)" fill="#24245a" fill-opacity="0.55"/>
<ellipse cx="1253.4" cy="502.1" rx="5.9" ry="4.8" transform="rotate(17 1253.4 502.1)" fill="#24245a" fill-opacity="0.55"/>
<ellipse cx="1283.5" cy="497.8" rx="5.4" ry="4.3" transform="rotate(35 1283.5 497.8)" fill="#24245a" fill-opacity="0.55"/>
<ellipse cx="1494.1" cy="570.9" rx="4.8" ry="4.8" transform="rotate(-5 1494.1 570.9)" fill="#24245a" fill-opacity="0.55"/>
<ellipse cx="1339.3" cy="613.9" rx="4.8" ry="4.3" transform="rotate(-40 1339.3 613.9)" fill="#24245a" fill-opacity="0.55"/>
<ellipse cx="1597.2" cy="502.1" rx="5.4" ry="3.8" transform="rotate(-20 1597.2 502.1)" fill="#24245a" fill-opacity="0.55"/>
<ellipse cx="1704.7" cy="596.7" rx="4.8" ry="4.3" transform="rotate(14 1704.7 596.7)" fill="#24245a" fill-opacity="0.55"/>
<ellipse cx="1799.2" cy="622.5" rx="4.8" ry="4.3" transform="rotate(3 1799.2 622.5)" fill="#24245a" fill-opacity="0.55"/>
<ellipse cx="1829.3" cy="656.9" rx="5.4" ry="4.3" transform="rotate(-5 1829.3 656.9)" fill="#24245a" fill-opacity="0.55"/>
<ellipse cx="1433.9" cy="656.9" rx="4.8" ry="4.3" transform="rotate(-21 1433.9 656.9)" fill="#24245a" fill-opacity="0.55"/>
<ellipse cx="1459.7" cy="734.2" rx="5.4" ry="4.8" transform="rotate(-13 1459.7 734.2)" fill="#24245a" fill-opacity="0.55"/>
<ellipse cx="1262.0" cy="622.5" rx="4.8" ry="4.3" transform="rotate(3 1262.0 622.5)" fill="#24245a" fill-opacity="0.55"/>
<ellipse cx="1287.8" cy="682.6" rx="5.4" ry="4.3" transform="rotate(-27 1287.8 682.6)" fill="#24245a" fill-opacity="0.55"/>
<ellipse cx="1648.8" cy="463.4" rx="4.8" ry="3.8" transform="rotate(-29 1648.8 463.4)" fill="#24245a" fill-opacity="0.55"/>
<ellipse cx="1580.0" cy="682.6" rx="5.4" ry="4.8" transform="rotate(8 1580.0 682.6)" fill="#24245a" fill-opacity="0.55"/>
<circle cx="1534.9" cy="631.1" r="1.7" fill="#b8a83a" fill-opacity="0.8"/>
<circle cx="1519.9" cy="613.9" r="2.4" fill="#d8c040" fill-opacity="0.8"/>
<circle cx="1545.6" cy="656.9" r="2.6" fill="#d8c040" fill-opacity="0.8"/>
<circle cx="1515.6" cy="596.7" r="3.0" fill="#d07a30" fill-opacity="0.8"/>
<circle cx="1562.8" cy="596.7" r="1.7" fill="#b8a83a" fill-opacity="0.8"/>
<circle cx="1584.3" cy="674.0" r="2.8" fill="#b8a83a" fill-opacity="0.8"/>
<circle cx="1476.9" cy="416.2" r="2.4" fill="#d8c040" fill-opacity="0.8"/>
<circle cx="1494.1" cy="381.8" r="1.7" fill="#c89a40" fill-opacity="0.8"/>
<circle cx="1459.7" cy="433.4" r="2.7" fill="#d8c040" fill-opacity="0.8"/>
<circle cx="1687.5" cy="536.5" r="2.8" fill="#d8c040" fill-opacity="0.8"/>
<circle cx="1335.0" cy="613.9" r="2.1" fill="#d07a30" fill-opacity="0.8"/>
<circle cx="1605.8" cy="454.9" r="2.5" fill="#b8a83a" fill-opacity="0.8"/>
<circle cx="1343.6" cy="551.6" r="1.8" fill="#b8a83a" fill-opacity="0.8"/>
<circle cx="1747.6" cy="373.2" r="1.9" fill="#b8a83a" fill-opacity="0.8"/>
<circle cx="1382.3" cy="519.3" r="2.6" fill="#d8c040" fill-opacity="0.8"/>
</g>
</g>
<rect x="1218.6" y="356.0" width="2.6" height="418.6" fill="#140a24"/>
<rect x="1218.6" y="773.0" width="658.4" height="2.0" fill="#140a24"/>
<rect x="1873.8" y="356" width="3.4" height="418.6" fill="#0e0820"/>
<rect x="1561.3" y="617.4" width="148.8" height="73.2" fill="#000"/>
<text x="1634.6" y="671.4" font-size="50px" font-weight="bold" fill="#fff" text-anchor="middle">2mm</text>
<text x="1236.5" y="399.5" font-size="42px" font-weight="bold" fill="#fff">b</text>
<path d="M142.5,816.5 L143.2,817.6 L144.7,820.0 L146.2,818.7 L147.6,821.6 L149.1,822.3 L150.6,823.9 L152.0,824.2 L153.4,825.0 L154.8,824.6 L156.2,826.1 L157.7,826.4 L159.1,829.3 L160.5,828.1 L161.9,828.4 L163.3,829.2 L164.6,829.3 L165.9,829.4 L167.2,829.4 L168.6,830.1 L169.9,830.8 L171.2,830.7 L172.5,831.6 L173.8,831.2 L175.2,831.6 L176.5,832.7 L177.8,832.4 L179.1,832.4 L180.4,832.2 L181.7,832.5 L183.0,833.0 L184.3,833.8 L185.6,832.7 L186.9,832.8 L188.2,833.5 L189.5,832.6 L190.8,833.0 L192.1,833.7 L193.4,833.6 L194.7,833.5 L196.0,833.5 L197.5,834.5 L199.0,833.2 L200.5,835.9 L202.0,835.5 L203.5,836.6 L205.2,834.8 L207.0,835.0 L208.7,834.0 L210.0,835.0 L211.3,835.1 L212.7,835.4 L214.0,836.6 L215.5,836.3 L216.9,835.9 L218.4,836.4 L219.8,835.7 L221.3,835.1 L222.8,835.3 L224.2,834.2 L225.7,834.0 L227.0,834.5 L228.3,836.4 L229.7,837.5 L231.0,838.2 L232.3,838.2 L233.7,838.0 L235.0,838.6 L236.4,837.2 L237.7,839.1 L239.1,839.1 L240.4,838.0 L241.8,839.0 L243.1,838.6 L244.5,839.6 L245.8,839.3 L247.1,838.3 L248.4,839.1 L249.8,840.2 L251.1,840.6 L252.4,838.9 L253.7,840.0 L255.0,840.6 L256.4,840.3 L257.7,841.6 L259.0,840.3 L260.3,841.3 L261.6,840.7 L262.9,842.2 L264.3,841.6 L265.6,841.5 L266.9,841.9 L268.2,841.0 L269.5,842.9 L270.9,842.4 L272.2,842.4 L273.5,842.7 L274.8,842.3 L276.1,841.8 L277.4,841.7 L278.8,841.7 L280.1,843.0 L281.4,841.4 L282.7,841.9 L284.0,842.1 L285.4,842.5 L286.7,842.7 L288.0,842.4 L289.3,842.1 L290.6,842.1 L292.0,843.4 L293.3,844.4 L294.6,844.5 L296.0,844.5 L297.3,844.6 L298.6,845.1 L299.9,845.1 L301.2,844.6 L302.6,844.9 L303.9,843.9 L305.2,844.2 L306.6,843.8 L307.9,844.0 L309.2,843.5 L310.8,842.6 L312.4,842.8 L314.0,840.3 L315.6,843.5 L316.9,844.4 L318.2,844.6 L319.6,842.8 L320.9,844.0 L322.5,835.0 L323.5,820.8 L325.0,822.0 L326.7,831.3 L327.8,810.0 L328.8,791.7 L329.8,810.0 L331.4,839.8 L333.2,844.0 L335.7,846.1 L337.1,845.8 L338.5,845.6 L339.9,846.1 L341.3,844.5 L342.7,846.3 L344.2,846.1 L345.6,844.7 L347.0,844.8 L348.4,844.8 L349.8,845.2 L351.2,845.1 L352.5,845.9 L353.8,847.2 L355.1,846.4 L356.4,847.4 L357.8,847.5 L359.1,848.8 L360.4,848.7 L361.7,848.8 L363.0,849.4 L364.4,847.9 L365.7,848.3 L367.0,847.8 L368.3,848.9 L369.6,848.3 L371.0,847.7 L372.3,847.7 L373.6,847.8 L375.0,848.6 L376.3,848.3 L377.7,848.5 L379.0,849.6 L380.4,851.1 L381.7,849.9 L383.1,850.1 L384.4,850.1 L385.8,850.3 L387.1,851.4 L388.5,851.6 L389.9,851.7 L391.3,851.2 L392.7,851.2 L394.1,851.0 L395.6,851.0 L397.0,850.0 L398.4,850.5 L399.8,850.7 L401.2,850.1 L402.6,850.2 L404.0,850.4 L405.3,850.0 L406.6,850.4 L408.0,851.2 L409.3,850.6 L410.6,850.8 L411.9,851.4 L413.3,851.5 L414.6,852.1 L415.9,850.2 L417.2,851.9 L418.6,851.2 L419.9,851.7 L421.2,852.2 L422.6,852.4 L423.9,852.5 L425.2,852.0 L426.6,851.8 L428.0,852.2 L429.3,850.9 L430.7,850.6 L432.1,850.8 L433.5,849.8 L434.9,850.9 L436.2,850.0 L437.6,850.3 L439.0,848.8 L440.7,850.2 L442.5,851.4 L444.2,853.0 L445.5,852.2 L446.9,851.6 L448.2,849.9 L449.5,849.3 L450.8,850.0 L452.1,850.3 L453.5,851.8 L454.8,851.4 L456.1,850.9 L457.5,851.7 L458.8,850.6 L460.1,850.3 L461.5,850.3 L462.8,849.8 L464.2,850.4 L465.5,850.2 L468.2,846.0 L469.6,812.3 L470.8,730.0 L471.9,673.0 L473.0,730.0 L474.5,790.0 L476.0,822.0 L478.0,846.0 L480.0,850.4 L481.4,851.1 L482.7,850.7 L484.1,851.1 L485.4,851.8 L486.8,851.2 L488.1,851.3 L489.4,851.1 L490.8,851.4 L492.5,845.0 L494.2,820.0 L495.5,800.7 L496.8,820.0 L498.5,838.0 L499.8,840.0 L501.3,834.5 L503.0,844.0 L504.5,849.3 L506.1,849.1 L507.7,851.1 L509.3,850.4 L510.9,852.0 L513.0,845.0 L515.0,832.4 L517.3,841.0 L519.3,838.5 L521.5,847.0 L523.3,850.4 L525.5,840.0 L527.0,820.0 L528.0,812.3 L529.3,825.0 L530.6,843.0 L531.7,849.3 L533.5,835.0 L535.0,815.0 L536.0,810.7 L537.5,822.0 L539.1,832.4 L540.8,823.0 L542.3,818.1 L543.8,832.0 L545.0,846.0 L546.5,852.5 L547.9,853.0 L549.3,852.7 L550.7,853.5 L552.1,853.0 L553.6,852.7 L555.0,853.4 L556.4,853.0 L557.8,853.4 L559.2,853.6 L560.6,852.9 L562.1,852.1 L563.5,851.4 L565.5,840.0 L567.7,825.0 L569.3,832.0 L570.9,837.7 L573.0,846.0 L575.1,850.4 L577.5,849.0 L579.3,847.2 L581.5,838.0 L583.6,822.0 L585.2,790.0 L586.4,770.0 L587.3,730.0 L588.2,650.0 L589.2,520.0 L590.0,300.0 L590.5,120.0 L590.8,18.5 L591.2,120.0 L591.8,300.0 L592.6,520.0 L593.3,700.0 L593.8,790.0 L594.3,815.0 L596.0,822.0 L597.5,826.0 L599.5,825.0 L600.8,829.0 L602.0,831.5 L603.2,815.0 L604.2,760.0 L605.2,650.0 L606.2,540.0 L607.3,461.5 L608.2,540.0 L609.2,650.0 L610.2,740.0 L611.0,784.5 L611.9,765.0 L613.2,700.0 L614.5,600.0 L616.0,420.0 L617.3,260.0 L618.3,171.5 L619.0,260.0 L619.8,420.0 L620.5,600.0 L620.8,740.0 L621.5,790.0 L622.5,806.5 L624.0,825.0 L625.7,839.3 L628.2,849.0 L630.0,851.0 L631.3,850.9 L632.7,850.5 L634.0,850.9 L635.3,849.8 L636.7,850.9 L638.0,850.3 L639.3,851.6 L640.7,851.7 L642.0,851.0 L643.5,848.4 L645.0,848.0 L648.0,838.7 L649.6,843.0 L651.2,849.3 L653.5,845.0 L655.5,836.6 L657.0,842.0 L658.6,847.2 L661.0,842.0 L663.9,837.7 L665.5,830.0 L667.0,812.0 L668.2,802.8 L669.3,815.0 L670.3,835.0 L671.3,844.0 L672.7,844.4 L674.2,844.6 L675.6,845.0 L679.8,853.6 L681.6,851.2 L683.5,850.0 L687.2,844.0 L689.3,846.5 L691.4,845.0 L694.5,850.0 L696.1,852.0 L697.8,853.5 L699.4,852.9 L701.1,851.9 L702.7,852.5 L704.0,853.0 L705.4,853.7 L706.7,854.4 L708.0,855.0 L709.4,854.7 L710.8,856.0 L712.2,856.4 L713.6,855.7 L715.0,856.7 L716.4,856.2 L717.8,856.4 L719.2,856.0 L720.6,857.1 L722.0,856.0 L723.3,856.2 L724.7,855.6 L726.0,855.8 L727.3,856.3 L728.7,857.7 L730.0,856.5 L731.3,855.2 L732.7,854.2 L734.0,853.0 L737.6,848.3 L739.3,850.4 L741.0,852.0 L742.3,852.5 L743.7,854.3 L745.0,853.5 L746.3,854.0 L747.6,855.5 L749.0,856.0 L750.3,856.7 L751.9,855.5 L753.4,852.9 L755.0,852.0 L758.7,846.1 L761.0,849.0 L762.5,848.7 L764.0,846.5 L765.6,845.9 L767.2,845.5 L769.5,848.0 L771.0,847.6 L772.5,847.2 L774.0,848.3 L775.5,850.0 L777.0,852.0 L778.7,853.5 L780.3,855.0 L782.0,855.7 L783.3,855.2 L784.7,854.6 L786.0,853.0 L788.4,851.4 L790.3,840.0 L791.5,825.0 L792.4,818.1 L793.5,826.0 L794.7,831.0 L795.8,833.5 L796.6,848.0 L797.4,855.7 L800.0,850.0 L802.6,843.0 L805.0,850.0 L807.4,853.5 L809.2,852.1 L811.0,850.0 L812.6,848.6 L814.3,847.2 L817.0,852.0 L820.1,857.8 L821.6,858.2 L823.1,858.0 L824.5,857.6 L826.0,858.0 L827.5,857.5 L829.2,857.0 L831.0,855.0 L832.7,853.6 L834.4,852.0 L835.7,853.3 L837.0,855.0 L838.6,856.4 L840.3,857.0 L841.9,857.7 L843.4,856.2 L845.0,856.0 L846.8,855.8 L848.6,855.7 L850.2,840.0 L851.2,812.0 L852.0,799.1 L853.0,812.0 L854.2,826.0 L855.5,829.2 L857.0,845.0 L858.5,854.0 L860.3,857.8 L861.6,857.3 L863.0,857.0 L865.5,854.5 L867.3,842.0 L868.7,831.3 L870.3,827.1 L871.8,838.0 L873.3,851.0 L875.1,856.7 L876.5,857.2 L877.9,855.4 L879.2,856.5 L880.6,856.8 L882.0,856.0 L883.3,855.5 L884.7,856.7 L886.0,856.1 L887.3,855.5 L888.7,855.9 L890.0,855.7 L891.5,854.6 L893.0,854.8 L894.5,855.8 L896.0,854.5 L898.0,848.0 L899.2,836.0 L900.1,831.3 L901.3,838.0 L903.0,850.0 L906.4,855.7 L908.0,853.4 L909.5,852.0 L911.5,835.0 L913.3,815.0 L914.8,832.0 L916.5,846.0 L919.1,851.4 L920.5,852.1 L922.0,850.7 L923.4,850.4 L924.7,851.7 L926.0,851.9 L927.4,851.3 L928.7,853.0 L930.0,854.0 L931.4,854.6 L932.8,854.3 L934.2,854.7 L935.6,856.1 L937.1,856.0 L938.5,855.9 L939.9,856.9 L941.3,857.8 L942.7,858.1 L944.0,857.3 L945.4,857.9 L946.8,858.1 L948.1,857.2 L949.5,856.4 L950.9,856.2 L952.3,856.7 L953.6,857.1 L955.0,856.5 L956.4,856.6 L957.7,856.7 L959.1,856.0 L960.4,856.4 L961.8,855.9 L963.1,855.9 L964.5,855.3 L965.8,855.1 L967.2,855.6 L968.5,855.2 L969.9,855.7 L971.5,853.3 L973.0,852.0 L975.2,850.4 L976.9,849.6 L978.5,848.0 L980.5,840.0 L982.1,836.6 L983.8,842.0 L985.8,850.0 L987.9,854.6 L989.6,855.2 L991.3,857.5 L993.0,856.5 L994.3,857.7 L995.6,857.5 L996.9,859.0 L998.2,859.4 L999.5,859.9 L1000.9,859.1 L1002.3,859.7 L1003.8,858.3 L1005.2,856.6 L1006.6,858.3 L1008.0,857.5 L1009.4,857.0 L1010.7,858.1 L1012.1,856.8 L1013.4,856.4 L1014.8,857.8 L1016.1,856.2 L1017.5,856.7 L1018.9,856.7 L1020.2,857.3 L1021.6,856.5 L1022.9,856.3 L1024.3,856.3 L1025.6,856.6 L1027.0,856.0 L1028.8,854.3 L1030.5,853.5 L1032.0,853.1 L1033.4,852.0 L1036.0,855.0 L1038.6,857.3 L1039.9,857.0 L1041.3,857.4 L1042.7,855.4 L1044.0,855.0 L1045.3,853.7 L1046.7,853.7 L1048.0,852.5 L1049.4,851.0 L1050.8,849.9 L1053.5,853.5 L1055.0,855.0 L1056.6,856.2 L1058.3,855.5 L1060.0,854.6 L1063.0,848.0 L1066.2,840.9 L1067.5,835.0 L1068.4,800.0 L1069.4,776.0 L1070.4,795.0 L1071.5,808.0 L1073.1,810.2 L1074.0,835.0 L1075.2,853.5 L1076.5,848.0 L1078.0,840.9 L1080.0,841.5 L1082.2,843.0 L1084.8,849.0 L1087.5,854.6 L1089.2,854.2 L1091.0,852.5 L1092.7,850.5 L1094.4,849.3 L1097.0,853.0 L1098.6,854.8 L1100.2,856.7 L1101.6,855.6 L1103.0,856.9 L1104.5,858.6 L1105.9,857.7 L1107.3,858.1 L1108.7,858.8 L1110.0,857.6 L1111.3,858.0 L1112.7,857.2 L1114.0,856.5 L1115.4,856.2 L1116.8,857.5 L1118.1,857.6 L1119.5,857.8 L1120.9,857.6 L1122.3,856.2 L1123.8,856.8 L1125.2,855.5 L1126.6,854.6 L1128.3,855.0 L1130.0,855.5 L1131.3,854.0 L1132.7,853.0 L1134.0,852.0 L1135.5,854.0 L1137.0,855.0 L1138.7,856.3 L1140.4,857.8 L1141.8,858.4 L1143.1,858.1 L1144.5,858.5 L1145.9,858.1 L1147.3,857.6 L1148.6,856.6 L1150.0,857.6 L1151.4,857.2 L1152.7,856.8 L1154.1,855.9 L1155.4,855.5 L1156.8,854.6 L1158.4,855.1 L1160.0,856.2 L1161.8,856.2 L1163.6,856.7 L1165.0,845.0 L1166.3,831.9 L1167.8,836.0 L1170.0,846.1 L1171.3,853.0 L1172.6,857.8 L1175.0,853.0 L1177.4,849.9 L1179.2,851.2 L1181.0,853.5 L1182.5,855.8 L1184.0,856.8 L1185.4,858.0 L1186.9,859.9 L1188.4,858.9 L1189.9,859.2 L1191.5,859.7 L1193.0,858.9 L1194.5,857.9 L1196.0,858.0 L1197.4,858.6 L1198.9,858.4 L1200.3,858.0 L1201.7,857.7 L1203.1,857.7 L1204.6,857.2 L1206.0,856.7 L1207.5,857.3 L1209.0,856.5 L1210.5,857.9 L1212.0,857.4 L1213.5,858.5 L1215.0,857.5 L1216.5,856.4 L1218.0,858.0 L1219.5,858.2 L1221.0,857.5 L1222.5,858.0 L1224.0,857.8 L1225.8,856.1 L1227.6,853.5 L1229.3,855.3 L1231.0,856.5 L1232.5,856.8 L1234.1,857.6 L1235.6,858.3 L1237.1,857.4 L1238.5,856.1 L1240.0,854.0 L1243.5,848.0 L1246.1,845.6 L1248.5,849.0 L1250.0,852.5 L1253.2,858.3 L1254.6,858.1 L1255.9,857.8 L1257.3,857.6 L1258.6,857.8 L1260.0,857.0 L1261.4,855.9 L1262.8,855.3 L1264.2,855.6 L1265.6,854.5 L1267.0,854.6 L1269.0,845.0 L1270.5,826.0 L1271.7,818.1 L1273.0,826.0 L1274.9,833.5 L1276.0,845.0 L1277.5,855.7 L1279.1,856.0 L1280.7,857.0 L1282.2,857.9 L1283.8,858.3 L1285.2,857.6 L1286.6,858.6 L1288.0,857.1 L1289.4,858.2 L1290.8,857.0 L1292.2,857.1 L1293.6,858.0 L1295.0,857.6 L1296.3,857.4 L1297.6,857.2 L1298.9,857.4 L1300.2,858.0 L1301.5,857.7 L1302.8,857.8 L1304.1,858.4 L1305.4,857.4 L1306.7,857.6 L1308.0,857.9 L1309.3,857.5 L1310.7,858.4 L1312.0,858.2 L1313.3,858.3 L1314.7,857.5 L1316.0,857.4 L1317.3,857.9 L1318.7,857.1 L1320.0,857.3 L1321.3,857.8 L1322.7,857.8 L1324.0,857.1 L1325.3,857.5 L1326.6,857.6 L1328.0,858.7 L1329.3,857.8 L1330.9,858.5 L1332.4,856.2 L1334.0,855.5 L1335.9,854.8 L1337.8,854.0 L1339.4,853.1 L1341.0,854.8 L1342.8,854.3 L1344.5,853.5 L1346.5,848.0 L1348.4,844.0 L1351.0,842.5 L1352.6,841.7 L1354.2,840.9 L1356.5,846.0 L1358.9,853.5 L1360.6,853.6 L1362.3,855.3 L1364.0,855.5 L1365.4,855.7 L1366.8,857.6 L1368.1,858.9 L1369.5,859.9 L1371.0,858.2 L1372.5,858.4 L1374.0,857.0 L1375.7,856.4 L1377.3,853.9 L1379.0,853.5 L1380.5,853.2 L1382.0,854.8 L1383.5,855.0 L1385.2,855.9 L1386.8,856.2 L1388.5,857.8 L1390.2,857.0 L1391.8,856.5 L1393.5,856.0 L1395.0,854.8 L1396.6,854.1 L1398.1,852.5 L1399.8,854.2 L1401.5,855.5 L1402.8,857.4 L1404.2,858.1 L1405.5,858.3 L1406.8,858.4 L1408.1,858.4 L1409.4,858.2 L1410.7,857.6 L1412.0,857.0 L1413.5,855.7 L1415.1,856.3 L1416.7,855.2 L1418.2,854.6 L1420.1,856.4 L1422.0,856.5 L1423.8,857.2 L1425.6,857.8 L1428.0,850.0 L1429.3,833.0 L1430.3,826.0 L1431.6,833.0 L1434.0,841.9 L1436.2,838.0 L1437.4,826.0 L1438.3,819.7 L1439.3,828.0 L1440.4,835.6 L1441.3,820.0 L1442.2,812.3 L1443.3,826.0 L1444.5,840.0 L1445.5,846.1 L1447.3,852.0 L1449.2,857.8 L1451.3,852.0 L1453.2,847.7 L1455.5,851.0 L1458.0,854.0 L1459.6,855.4 L1461.2,856.2 L1462.6,855.5 L1464.1,855.3 L1465.5,853.5 L1466.8,854.6 L1468.2,855.4 L1469.5,856.5 L1471.8,852.5 L1473.8,849.9 L1476.5,853.5 L1479.0,857.0 L1480.7,858.6 L1482.3,859.9 L1483.7,859.4 L1485.2,859.5 L1486.6,859.2 L1488.0,859.0 L1489.6,858.7 L1491.3,859.3 L1492.9,857.8 L1496.0,854.0 L1499.2,849.9 L1500.8,851.1 L1502.5,852.8 L1503.8,853.3 L1505.1,853.6 L1506.4,854.5 L1507.7,854.6 L1509.1,855.1 L1510.6,856.5 L1512.0,858.0 L1513.4,858.8 L1514.8,859.9 L1516.2,860.4 L1518.1,859.2 L1520.0,858.0 L1521.8,857.1 L1523.6,856.7 L1525.2,856.5 L1526.8,857.6 L1528.4,858.5 L1530.0,858.0 L1531.3,858.1 L1532.7,858.0 L1534.0,858.1 L1535.3,857.3 L1536.7,857.6 L1538.0,857.7 L1539.5,857.4 L1541.0,857.5 L1542.5,857.2 L1544.0,857.0 L1545.7,854.6 L1547.4,853.5 L1549.2,855.4 L1551.0,856.0 L1552.3,857.4 L1553.7,856.8 L1555.0,857.6 L1556.3,857.8 L1557.6,857.8 L1559.0,857.9 L1560.3,856.5 L1561.7,858.0 L1563.0,857.0 L1564.5,856.5 L1566.0,857.2 L1567.5,856.3 L1569.0,856.0 L1570.6,855.4 L1572.2,855.2 L1573.8,855.4 L1575.4,854.6 L1576.9,854.9 L1578.5,856.0 L1580.0,857.0 L1581.5,857.3 L1583.0,857.3 L1584.5,859.5 L1586.0,859.4 L1589.0,855.0 L1592.3,849.3 L1593.7,851.2 L1595.0,852.5 L1597.6,854.6 L1600.8,859.9 L1602.1,860.0 L1603.4,860.7 L1604.7,859.7 L1606.0,860.3 L1607.3,860.4 L1608.7,861.6 L1610.0,861.4 L1611.3,861.0 L1613.2,858.5 L1615.0,858.5 L1616.8,855.5 L1618.7,856.2 L1620.0,856.2 L1621.3,857.9 L1622.7,857.7 L1624.0,858.5 L1625.7,858.2 L1627.3,858.5 L1629.0,858.0 L1630.5,856.7 L1632.0,856.6 L1633.5,855.7 L1635.0,857.1 L1636.5,857.8 L1638.0,858.5 L1639.4,858.8 L1640.8,858.3 L1642.2,859.0 L1643.6,858.5 L1645.0,858.8 L1646.4,859.5 L1647.9,860.1 L1649.3,858.2 L1650.7,857.4 L1652.1,858.3 L1653.6,858.7 L1655.0,858.4 L1656.4,859.0 L1657.9,859.1 L1659.3,858.1 L1660.7,858.1 L1662.1,859.3 L1663.6,858.1 L1665.0,858.7 L1666.5,859.2 L1668.0,858.4 L1669.5,858.9 L1670.9,858.8 L1672.4,858.7 L1673.9,858.2 L1676.0,852.0 L1677.7,843.5 L1679.5,848.0 L1681.2,849.7 L1682.8,850.5 L1686.0,856.0 L1687.5,856.6 L1688.9,858.4 L1690.4,859.4 L1691.9,859.5 L1693.5,859.7 L1695.0,859.6 L1696.4,860.4 L1697.8,859.7 L1699.2,859.5 L1700.6,860.0 L1702.8,853.0 L1704.4,847.3 L1705.8,851.0 L1707.0,854.3 L1708.6,849.0 L1710.1,845.4 L1711.8,852.0 L1713.3,856.9 L1715.2,857.5 L1717.0,859.0 L1718.3,859.2 L1719.7,860.1 L1721.0,860.0 L1722.5,859.6 L1724.0,860.7 L1725.5,860.3 L1727.0,860.0 L1728.5,859.4 L1730.0,860.2 L1731.4,860.3 L1732.9,860.5 L1734.3,859.1 L1735.7,860.7 L1737.1,861.0 L1738.6,860.2 L1740.0,860.0 L1741.5,859.8 L1743.0,860.5 L1744.5,859.4 L1746.0,858.3 L1747.4,857.3 L1748.8,857.2 L1750.1,856.6 L1751.5,856.2 L1753.0,856.6 L1754.5,857.2 L1757.0,856.0 L1758.2,848.0 L1759.1,842.9 L1760.5,848.0 L1762.0,851.0 L1764.2,853.0 L1767.0,858.0 L1768.8,858.0 L1770.6,860.7 L1772.2,860.7 L1773.8,859.5 L1775.4,859.5 L1777.0,859.0 L1778.5,858.5 L1780.0,858.6 L1781.5,857.6 L1783.0,856.9 L1784.5,856.9 L1785.9,857.5 L1787.3,858.4 L1788.8,857.8 L1790.2,859.1 L1791.6,858.8 L1793.0,859.0 L1794.3,858.8 L1795.7,860.1 L1797.0,858.9 L1798.3,860.1 L1799.6,859.4 L1800.9,860.0 L1802.3,859.2 L1803.6,860.0 L1805.0,859.5 L1806.4,860.5 L1807.9,860.0 L1809.3,859.8 L1810.7,859.5 L1812.2,859.9 L1813.6,858.9 L1815.0,859.6 L1816.4,859.0 L1817.9,859.5 L1819.3,859.1 L1820.7,859.1 L1822.1,859.4 L1823.6,859.4 L1825.0,859.4 L1826.3,859.1 L1827.6,859.9 L1829.0,859.4 L1830.3,859.3 L1831.6,858.4 L1832.9,858.2 L1834.3,858.5 L1835.6,858.5 L1837.0,859.8 L1838.6,859.9 L1840.2,859.3 L1841.8,860.7 L1843.3,860.3 L1844.7,861.0 L1846.2,861.5 L1847.6,861.1 L1849.1,860.0 L1850.5,860.7 L1852.0,860.4 L1853.4,860.0 L1854.8,861.0 L1856.1,860.5 L1857.5,861.1 L1858.9,862.1 L1860.2,861.2 L1861.6,862.0 L1863.0,860.8 L1864.3,860.9 L1865.6,860.6 L1866.9,861.5 L1868.2,861.7 L1869.5,860.4 L1870.9,860.8 L1872.2,859.9 L1873.5,860.6 L1874.8,861.2 L1876.1,860.7 L1877.4,860.7" fill="none" stroke="#d3262b" stroke-width="2.15" stroke-linejoin="round" stroke-linecap="round"/>
<g fill="#000"><rect x="140" y="16" width="4.2" height="855.5"/><rect x="140" y="16" width="1079" height="3.6"/><rect x="1877" y="16" width="4.8" height="855.5"/><rect x="140" y="866.8" width="1741.8" height="4.1"/></g>
<g stroke="#111" stroke-width="2.4"><line x1="142.0" y1="870" x2="142.0" y2="879.3"/><line x1="162.5" y1="870" x2="162.5" y2="879.3"/><line x1="182.9" y1="870" x2="182.9" y2="879.3"/><line x1="203.4" y1="870" x2="203.4" y2="879.3"/><line x1="223.8" y1="870" x2="223.8" y2="879.3"/><line x1="264.8" y1="870" x2="264.8" y2="879.3"/><line x1="285.2" y1="870" x2="285.2" y2="879.3"/><line x1="305.7" y1="870" x2="305.7" y2="879.3"/><line x1="326.1" y1="870" x2="326.1" y2="879.3"/><line x1="346.6" y1="870" x2="346.6" y2="879.3"/><line x1="367.0" y1="870" x2="367.0" y2="879.3"/><line x1="387.5" y1="870" x2="387.5" y2="879.3"/><line x1="408.0" y1="870" x2="408.0" y2="879.3"/><line x1="428.4" y1="870" x2="428.4" y2="879.3"/><line x1="469.3" y1="870" x2="469.3" y2="879.3"/><line x1="489.8" y1="870" x2="489.8" y2="879.3"/><line x1="510.3" y1="870" x2="510.3" y2="879.3"/><line x1="530.7" y1="870" x2="530.7" y2="879.3"/><line x1="551.2" y1="870" x2="551.2" y2="879.3"/><line x1="571.6" y1="870" x2="571.6" y2="879.3"/><line x1="592.1" y1="870" x2="592.1" y2="879.3"/><line x1="612.6" y1="870" x2="612.6" y2="879.3"/><line x1="633.0" y1="870" x2="633.0" y2="879.3"/><line x1="673.9" y1="870" x2="673.9" y2="879.3"/><line x1="694.4" y1="870" x2="694.4" y2="879.3"/><line x1="714.9" y1="870" x2="714.9" y2="879.3"/><line x1="735.3" y1="870" x2="735.3" y2="879.3"/><line x1="755.8" y1="870" x2="755.8" y2="879.3"/><line x1="776.2" y1="870" x2="776.2" y2="879.3"/><line x1="796.7" y1="870" x2="796.7" y2="879.3"/><line x1="817.1" y1="870" x2="817.1" y2="879.3"/><line x1="837.6" y1="870" x2="837.6" y2="879.3"/><line x1="878.5" y1="870" x2="878.5" y2="879.3"/><line x1="899.0" y1="870" x2="899.0" y2="879.3"/><line x1="919.4" y1="870" x2="919.4" y2="879.3"/><line x1="939.9" y1="870" x2="939.9" y2="879.3"/><line x1="960.4" y1="870" x2="960.4" y2="879.3"/><line x1="980.8" y1="870" x2="980.8" y2="879.3"/><line x1="1001.3" y1="870" x2="1001.3" y2="879.3"/><line x1="1021.7" y1="870" x2="1021.7" y2="879.3"/><line x1="1042.2" y1="870" x2="1042.2" y2="879.3"/><line x1="1083.1" y1="870" x2="1083.1" y2="879.3"/><line x1="1103.6" y1="870" x2="1103.6" y2="879.3"/><line x1="1124.0" y1="870" x2="1124.0" y2="879.3"/><line x1="1144.5" y1="870" x2="1144.5" y2="879.3"/><line x1="1164.9" y1="870" x2="1164.9" y2="879.3"/><line x1="1185.4" y1="870" x2="1185.4" y2="879.3"/><line x1="1205.9" y1="870" x2="1205.9" y2="879.3"/><line x1="1226.3" y1="870" x2="1226.3" y2="879.3"/><line x1="1246.8" y1="870" x2="1246.8" y2="879.3"/><line x1="1287.7" y1="870" x2="1287.7" y2="879.3"/><line x1="1308.2" y1="870" x2="1308.2" y2="879.3"/><line x1="1328.6" y1="870" x2="1328.6" y2="879.3"/><line x1="1349.1" y1="870" x2="1349.1" y2="879.3"/><line x1="1369.5" y1="870" x2="1369.5" y2="879.3"/><line x1="1390.0" y1="870" x2="1390.0" y2="879.3"/><line x1="1410.5" y1="870" x2="1410.5" y2="879.3"/><line x1="1430.9" y1="870" x2="1430.9" y2="879.3"/><line x1="1451.4" y1="870" x2="1451.4" y2="879.3"/><line x1="1492.3" y1="870" x2="1492.3" y2="879.3"/><line x1="1512.8" y1="870" x2="1512.8" y2="879.3"/><line x1="1533.2" y1="870" x2="1533.2" y2="879.3"/><line x1="1553.7" y1="870" x2="1553.7" y2="879.3"/><line x1="1574.1" y1="870" x2="1574.1" y2="879.3"/><line x1="1594.6" y1="870" x2="1594.6" y2="879.3"/><line x1="1615.0" y1="870" x2="1615.0" y2="879.3"/><line x1="1635.5" y1="870" x2="1635.5" y2="879.3"/><line x1="1656.0" y1="870" x2="1656.0" y2="879.3"/><line x1="1696.9" y1="870" x2="1696.9" y2="879.3"/><line x1="1717.3" y1="870" x2="1717.3" y2="879.3"/><line x1="1737.8" y1="870" x2="1737.8" y2="879.3"/><line x1="1758.3" y1="870" x2="1758.3" y2="879.3"/><line x1="1778.7" y1="870" x2="1778.7" y2="879.3"/><line x1="1799.2" y1="870" x2="1799.2" y2="879.3"/><line x1="1819.6" y1="870" x2="1819.6" y2="879.3"/><line x1="1840.1" y1="870" x2="1840.1" y2="879.3"/><line x1="1860.6" y1="870" x2="1860.6" y2="879.3"/></g>
<g stroke="#1c1c1c" stroke-width="2.6"><line x1="244.3" y1="870" x2="244.3" y2="892"/><line x1="448.9" y1="870" x2="448.9" y2="892"/><line x1="653.5" y1="870" x2="653.5" y2="892"/><line x1="858.1" y1="870" x2="858.1" y2="892"/><line x1="1062.7" y1="870" x2="1062.7" y2="892"/><line x1="1267.2" y1="870" x2="1267.2" y2="892"/><line x1="1471.8" y1="870" x2="1471.8" y2="892"/><line x1="1676.4" y1="870" x2="1676.4" y2="892"/><line x1="122" y1="867.3" x2="141" y2="867.3"/><line x1="122" y1="590.4" x2="141" y2="590.4"/><line x1="122" y1="313.5" x2="141" y2="313.5"/><line x1="122" y1="36.6" x2="141" y2="36.6"/></g>
<text class="tk" x="244.3" y="912.9">10</text><text class="tk" x="448.9" y="912.9">20</text><text class="tk" x="653.5" y="912.9">30</text><text class="tk" x="858.1" y="912.9">40</text><text class="tk" x="1062.7" y="912.9">50</text><text class="tk" x="1267.2" y="912.9">60</text><text class="tk" x="1471.8" y="912.9">70</text><text class="tk" x="1676.4" y="912.9">80</text>
<text class="yl" x="113" y="872.6">0</text><text class="yl" x="116.3" y="596.8">5000</text><text class="yl" x="118.6" y="321.1">10,000</text><text class="yl" x="116.3" y="43.0">15,000</text>
<text class="b" font-size="38.6px" text-anchor="middle" transform="translate(41.3 466.8) rotate(-90)">Intensity of diffraction</text>
<text class="b" font-size="38.7px" text-anchor="middle" x="1048.8" y="961">Diffraction angle °2θ</text>
<text class="b" font-size="43.5px" x="165.6" y="73.2">c</text>
<text class="pk" style="font-size:29.9px" transform="translate(315.2 792.3) rotate(-90)">Albite</text>
<text class="pk" style="font-size:29.9px" transform="translate(457 765.3) rotate(-90)">Orthoclase</text>
<text class="pk" style="font-size:29.9px" transform="translate(573 567) rotate(-90)">Orthoclase, Albite, Quartz</text>
<text class="pk" style="font-size:29.9px" transform="translate(611.3 447) rotate(-90)">Orthoclase, Pyroxene</text>
<text class="pk" style="font-size:29.65px" transform="translate(642.5 304.5) rotate(-90)">Orthoclase, Albite</text>
<text class="pk" style="font-size:30.0px" transform="translate(1060 807) rotate(-90)">Orthoclase, Pyroxene, Albite</text>
</svg>
</body></html>
